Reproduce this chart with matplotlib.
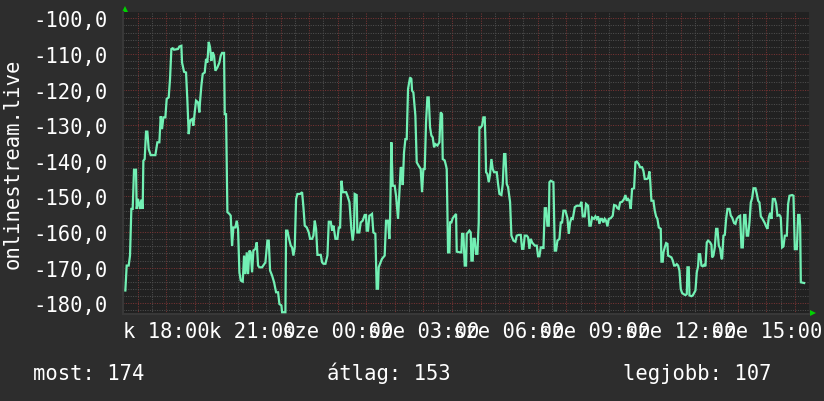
import matplotlib
matplotlib.use("Agg")
import matplotlib.pyplot as plt
import numpy as np
from matplotlib.transforms import blended_transform_factory

# ---- data: minutes after 16:30 (kedd) and signal values ----
t_a = [4.3, 7.1, 11.3, 14.1, 16.9, 19.7, 22.5, 26.7, 28.1, 30.9, 35.1, 37.9, 40.7, 42.1, 44.9, 47.7, 50.5, 53.3,
       57.5, 67.3, 71.5, 75.7, 78.5, 81.3, 84.1, 88.3, 91.1, 95.3, 98.1, 100.9, 103.7, 106.5, 114.9, 117.7, 121.9,
       123.3, 127.5, 131.7, 134.5, 137.3, 140.1, 144.3, 147.1, 149.9, 152.7, 156.9, 159.7, 161.1, 163.9, 166.7,
       170.9, 173.7, 176.5, 179.3, 182.1, 184.9, 187.7, 190.5, 193.3, 197.5, 201.7, 204.5, 207.3, 211.5, 212.9,
       215.7, 218.5, 222.7, 225.5, 228.3, 231.1, 235.3, 238.1, 240.9, 243.7, 246.5, 250.7, 253.5, 256.3, 259.1,
       261.9, 264.7, 267.5, 270.3, 273.1, 277.3, 280.1, 282.9, 285.7, 291.3, 298.3, 302.5, 305.3, 308.1, 312.3,
       316.5, 320.7, 324.9, 327.7, 331.9, 333.3, 340.3, 341.7, 344.5, 347.3, 351.5, 354.3, 357.1, 359.9, 362.7,
       365.5, 371.1, 375.3, 378.1, 380.9, 385.1, 389.3, 392.1, 396.3, 399.1, 401.9, 404.7, 407.5, 414.5, 417.3,
       420.1, 424.3, 428.5, 431.3, 435.5, 438.3, 441.1, 445.3, 449.5, 452.3, 455.1, 457.9, 460.7, 464.9, 467.7,
       470.5, 474.7]
v_a = [-176.4, -169.4, -169.4, -166.6, -153.5, -153.5, -142.5, -142.5, -153.5, -150.7, -153.5, -150.9, -153.5,
       -140.0, -139.5, -131.8, -131.8, -136.7, -138.4, -138.4, -134.8, -134.8, -127.5, -131.1, -127.8, -127.8,
       -122.6, -122.2, -117.0, -108.6, -108.4, -108.8, -108.6, -107.9, -107.7, -112.4, -115.0, -115.2, -123.1,
       -132.5, -128.7, -128.3, -130.1, -126.4, -123.1, -123.6, -126.4, -123.4, -118.9, -115.6, -115.2, -111.4,
       -112.4, -106.6, -108.1, -111.9, -109.5, -110.5, -114.7, -113.8, -112.4, -110.5, -109.7, -109.7, -126.9,
       -126.9, -154.4, -154.9, -155.4, -163.8, -158.7, -158.7, -156.8, -159.1, -171.3, -173.6, -173.9, -166.6,
       -171.8, -165.7, -171.8, -165.2, -165.7, -171.3, -165.2, -164.7, -162.9, -169.4, -169.9, -169.9, -168.5,
       -162.4, -162.4, -170.8, -172.2, -174.1, -176.9, -176.9, -180.2, -180.6, -182.5, -182.5, -159.6, -159.6,
       -161.5, -163.8, -164.3, -166.6, -164.3, -150.7, -149.3, -149.3, -148.8, -153.0, -158.2, -158.7, -160.1,
       -161.9, -161.9, -161.0, -156.8, -159.1, -166.4, -166.4, -168.5, -168.9, -168.9, -166.6, -157.1, -157.1,
       -159.6, -158.2, -161.9, -161.9, -158.7, -158.7, -145.6, -148.8, -148.8, -148.8, -149.8, -151.6]

t_b = [478.7, 481.5, 484.3, 485.7, 489.9, 491.3, 495.5, 498.3, 502.5, 506.7, 509.5, 510.9, 513.7, 516.5, 519.3,
       522.1, 524.9, 529.1, 531.9, 534.7, 536.1, 538.9, 543.1, 548.7, 551.5, 555.7, 558.5, 559.9, 562.7, 565.5,
       569.7, 572.5, 576.7, 579.5, 582.3, 585.1, 586.5, 589.3, 592.1, 594.9, 597.7, 601.9, 604.7, 606.1, 608.9,
       613.1, 615.9, 620.1, 624.3, 627.1, 629.9, 632.7, 635.5, 638.3, 641.1, 643.9, 646.7, 649.5, 652.3, 655.1,
       659.3, 663.5, 666.3, 669.1, 670.5, 674.7, 677.5, 678.9, 681.7, 684.5, 685.9, 688.7, 691.5, 695.7, 698.5,
       699.9, 706.9, 709.7, 711.1, 713.9, 716.7, 719.5, 720.9, 723.7, 726.5, 729.3, 730.7, 733.5, 734.9, 737.7,
       740.5, 743.3, 746.1, 747.5, 750.3, 753.1, 755.9, 758.7, 760.1, 761.5, 764.3, 767.1, 769.9, 772.7, 775.5,
       778.3, 783.9, 786.7, 789.5, 793.7, 796.5, 799.3, 802.1, 804.9, 807.7, 811.9, 814.7, 818.9, 823.1, 825.9,
       830.1, 834.3, 837.1, 839.9, 842.7, 846.9, 849.7, 852.5, 855.3, 858.1, 863.7, 867.9, 870.7, 873.5, 876.3,
       880.5, 881.9, 884.7, 887.5, 890.3, 893.1, 894.5, 897.3, 902.9, 905.7, 908.5, 911.3, 915.5, 918.3, 921.1,
       923.9, 928.1, 932.3, 935.1, 937.9, 940.7, 943.5, 947.7, 951.9]
v_b = [-159.1, -162.4, -159.1, -149.3, -149.6, -160.1, -160.1, -157.3, -156.8, -155.2, -155.2, -159.6, -159.6,
       -155.4, -155.2, -154.9, -160.1, -160.5, -175.9, -175.9, -169.9, -168.9, -167.5, -166.6, -156.8, -156.8,
       -161.9, -157.3, -134.8, -147.0, -147.0, -149.8, -156.3, -148.8, -141.8, -142.3, -146.8, -137.6, -133.9,
       -133.9, -119.8, -116.6, -117.0, -120.3, -120.8, -127.3, -140.4, -141.4, -142.3, -148.8, -142.3, -142.3,
       -129.2, -122.2, -122.2, -130.6, -132.9, -133.4, -136.2, -135.3, -135.7, -134.8, -126.4, -126.9, -139.5,
       -139.9, -141.4, -142.3, -165.7, -165.7, -157.3, -157.3, -156.1, -155.4, -154.9, -165.5, -165.7, -165.7,
       -160.5, -160.5, -169.4, -169.4, -160.5, -160.1, -159.6, -160.1, -168.0, -168.0, -161.9, -161.9, -166.1,
       -166.1, -157.3, -130.6, -130.6, -130.1, -127.8, -127.8, -134.3, -143.2, -143.7, -146.0, -143.7, -139.5,
       -142.3, -143.2, -143.2, -146.5, -149.3, -149.6, -146.5, -138.1, -138.1, -146.5, -147.4, -151.6, -161.0,
       -162.4, -162.7, -161.0, -160.8, -160.8, -164.7, -164.7, -161.0, -161.0, -161.5, -164.7, -161.9, -162.9,
       -163.8, -163.8, -166.8, -166.8, -164.3, -164.3, -164.7, -153.3, -153.3, -158.2, -158.2, -146.0, -145.6,
       -146.0, -165.2, -165.2, -162.4, -161.9, -157.3, -157.3, -154.0, -154.0, -156.1, -160.5, -157.3, -156.1,
       -156.3, -153.0, -152.6]

t_c = [958.8, 961.6, 964.4, 968.6, 971.4, 975.6, 978.4, 981.2, 984.0, 988.2, 991.0, 993.8, 996.6, 999.4, 1002.2,
       1005.0, 1007.8, 1010.6, 1013.4, 1016.2, 1019.0, 1023.2, 1027.4, 1030.2, 1034.4, 1037.2, 1040.0, 1042.8,
       1047.0, 1051.2, 1054.0, 1056.8, 1059.6, 1062.4, 1065.2, 1068.0, 1072.2, 1075.0, 1077.8, 1082.0, 1084.8,
       1089.0, 1091.8, 1094.6, 1098.8, 1101.6, 1104.4, 1105.8, 1108.6, 1112.8, 1115.6, 1118.4, 1121.2, 1124.0,
       1128.2, 1129.6, 1132.4, 1133.8, 1136.6, 1139.4, 1142.2, 1143.6, 1146.4, 1150.6, 1153.4, 1156.2, 1159.0,
       1161.8, 1164.6, 1167.4, 1170.2, 1173.0, 1175.8, 1180.0, 1182.8, 1184.2, 1187.0, 1188.4, 1192.6, 1195.4,
       1198.2, 1201.0, 1203.8, 1206.6, 1208.0, 1210.8, 1213.6, 1216.4, 1219.2, 1222.0, 1224.8, 1227.6, 1231.8,
       1234.6, 1236.0, 1238.8, 1241.6, 1244.4, 1247.2, 1250.0, 1252.8, 1255.6, 1257.0, 1259.8, 1262.6, 1265.4,
       1268.2, 1272.4, 1275.2, 1278.0, 1282.2, 1285.0, 1287.8, 1292.0, 1294.8, 1297.6, 1300.4, 1303.2, 1306.0,
       1308.8, 1311.6, 1314.4, 1317.2, 1320.0, 1322.8, 1327.0, 1329.8, 1332.6, 1335.4, 1338.2, 1341.0, 1343.8,
       1346.6, 1349.4, 1352.2, 1355.0, 1357.8, 1360.6, 1363.4, 1367.6, 1370.4, 1373.2, 1377.4, 1380.2, 1383.0,
       1385.8, 1388.6, 1392.8, 1395.6, 1398.4, 1404.0, 1406.8, 1409.6, 1413.8, 1416.6, 1419.4, 1420.8, 1422.2,
       1429.2]
v_c = [-152.6, -151.5, -155.6, -155.6, -152.1, -152.6, -158.2, -158.2, -155.9, -156.3, -155.6, -156.3, -155.6,
       -157.7, -156.3, -156.3, -157.3, -156.3, -156.8, -158.4, -156.3, -156.1, -155.4, -152.4, -152.6, -153.3,
       -153.5, -151.7, -151.5, -150.7, -149.6, -151.2, -150.7, -151.2, -153.5, -147.9, -147.7, -140.4, -140.2,
       -140.9, -141.8, -141.8, -142.8, -145.1, -145.1, -144.9, -143.0, -145.1, -151.2, -151.2, -154.0, -155.6,
       -156.3, -158.7, -159.1, -168.3, -168.3, -165.7, -164.3, -163.1, -163.3, -166.6, -166.8, -167.1, -168.0,
       -169.4, -169.4, -169.0, -169.4, -170.8, -176.0, -177.1, -177.4, -177.7, -177.4, -169.9, -169.9, -177.8,
       -178.0, -177.8, -177.1, -176.4, -171.3, -169.6, -166.2, -166.2, -169.4, -169.6, -169.2, -169.6, -162.9,
       -162.4, -162.9, -163.6, -167.1, -166.6, -164.3, -159.1, -159.1, -163.8, -164.6, -167.4, -167.6, -161.0,
       -160.8, -156.3, -153.5, -153.5, -155.4, -155.9, -157.5, -157.7, -156.3, -155.6, -155.4, -164.3, -164.3,
       -155.2, -155.2, -161.0, -161.0, -157.3, -151.7, -150.5, -147.7, -147.7, -149.3, -151.2, -151.7, -155.6,
       -156.1, -156.8, -157.5, -158.4, -159.1, -155.9, -154.6, -156.3, -150.7, -150.7, -152.1, -155.4, -155.2,
       -155.9, -164.3, -164.0, -161.0, -161.0, -152.1, -149.8, -149.6, -149.8, -164.8, -164.8, -155.2, -155.2,
       -158.2, -174.1, -174.3]

y_ticks = [-180, -170, -160, -150, -140, -130, -120, -110, -100]
x_label_pos = [90, 270, 450, 630, 810, 990, 1170, 1350]
x_labels = ["k 18:00", "k 21:00", "sze 00:00", "sze 03:00", "sze 06:00", "sze 09:00", "sze 12:00", "sze 15:00"]
y_title = "onlinestream.live"
summary = [("most: 174", 33), ("átlag: 153", 327), ("legjobb: 107", 623)]

# ---- drawing ----
W, H = 824, 402
FONT = "DejaVu Sans Mono"
FS = 14.8
fig = plt.figure(figsize=(W / 100, H / 100), dpi=100, facecolor="#2d2d2d")
ax = fig.add_axes([123.3 / W, (H - 315) / H, 686 / W, 301.7 / H])
ax.set_facecolor("#212121")

t = np.array(t_a + t_b + t_c)
v = np.array(v_a + v_b + v_c)
ax.plot(t, v, color="#72f0b4", lw=1.6, solid_joinstyle="miter", zorder=3)

ax.set_xlim(0, 1440)
ax.set_ylim(-183.0, -98.3)

ax.set_xticks(np.arange(30, 1440, 60))
ax.set_xticks(np.arange(0, 1441, 60), minor=True)
ax.set_yticks(y_ticks)
ax.set_yticks(np.arange(-182, -98, 2), minor=True)
ax.set_yticklabels([f"{y:.1f}".replace(".", ",") for y in y_ticks],
                   fontfamily=FONT, fontsize=FS, color="white")
ax.set_xticklabels([])
ax.tick_params(which="both", length=0)
ax.tick_params(axis="y", pad=11.5)

ax.set_axisbelow(True)
ax.grid(which="minor", color="#4f4f4f", lw=0.72, linestyle=(0, (1, 1.4)))
ax.grid(which="major", color="#7a3434", lw=0.72, linestyle=(0, (1, 1.4)))

for s in ["top", "right"]:
    ax.spines[s].set_visible(False)
for s in ["left", "bottom"]:
    ax.spines[s].set_color("#383838")
    ax.spines[s].set_linewidth(1.5)

# arrows
ax.plot([0.003], [1.0 + 3 / 301.7], marker="^", color="#00d000", ms=5, mew=0,
        transform=ax.transAxes, clip_on=False)
ax.plot([1.0 + 4 / 686], [0.002], marker=">", color="#00d000", ms=5, mew=0,
        transform=ax.transAxes, clip_on=False)

trans = blended_transform_factory(ax.transData, ax.transAxes)
for pos, lab in zip(x_label_pos, x_labels):
    ax.text(pos, -(338.3 - 315) / 301.7, lab, transform=trans, ha="center", va="baseline",
            fontfamily=FONT, fontsize=FS, color="white")

fig.text(12.5 / W, 1 - 164 / H, y_title, rotation=90, ha="center", va="center",
         fontfamily=FONT, fontsize=FS, color="white")

for txt, x0 in summary:
    fig.text(x0 / W, 1 - 380.5 / H, txt, ha="left", va="baseline",
             fontfamily=FONT, fontsize=FS, color="white")

fig.savefig("out.png", dpi=100, facecolor=fig.get_facecolor())
